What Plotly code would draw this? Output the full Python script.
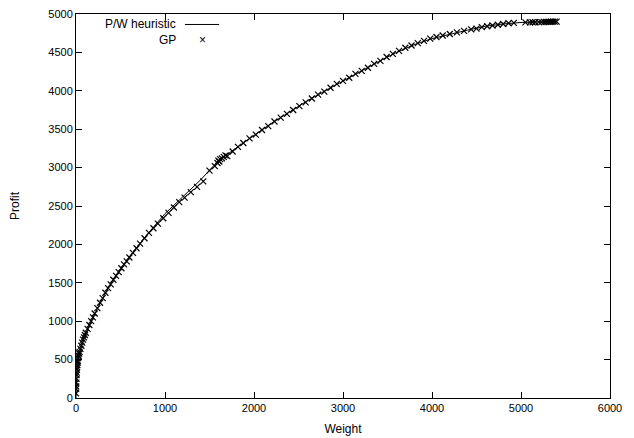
import plotly.graph_objects as go

# P/W heuristic curve
pw_weight = [0, 3, 10, 25, 50, 100, 150, 200, 300, 400, 500, 600, 800, 1000, 1200, 1400, 1600,
             1800, 2000, 2200, 2400, 2600, 2800, 3000, 3200, 3400, 3600, 3800, 4000, 4200,
             4400, 4600, 4800, 5000, 5200, 5400]
pw_profit = [0, 150, 350, 500, 640, 820, 950, 1070, 1300, 1510, 1680, 1840, 2130, 2400, 2620, 2840, 3090,
             3260, 3420, 3580, 3730, 3870, 4000, 4130, 4250, 4380, 4500, 4600, 4680, 4740,
             4790, 4840, 4870, 4890, 4895, 4900]

# GP solutions
gp_weight = [0, 0, 2, 3, 5, 6, 8, 10, 12, 15, 18, 20, 25, 30, 35, 40, 50, 60, 70, 80, 90, 100,
             110, 130, 150, 170, 190, 210, 240, 270, 300, 330, 360, 390, 420, 450, 480, 510,
             540, 570, 600, 640, 680, 720, 770, 820, 870, 920, 980, 1040, 1100, 1160, 1220,
             1290, 1360, 1430, 1500, 1560, 1590, 1600, 1610, 1620, 1640, 1660, 1680, 1700,
             1760, 1820, 1880, 1950, 2020, 2090, 2160, 2230, 2300, 2370, 2440, 2510, 2580,
             2650, 2720, 2790, 2860, 2930, 3000, 3070, 3140, 3210, 3280, 3350, 3420, 3490,
             3560, 3630, 3700, 3770, 3840, 3910, 3980, 4050, 4120, 4200, 4280, 4360, 4440,
             4500, 4560, 4620, 4680, 4740, 4800, 4860, 4920, 5050, 5100, 5130, 5160, 5200,
             5230, 5260, 5280, 5300, 5320, 5340, 5360, 5380, 5400]
gp_profit = [60, 120, 150, 200, 250, 300, 330, 370, 400, 430, 460, 480, 520, 550, 580, 600, 640,
             680, 720, 760, 790, 820, 850, 900, 950, 1000, 1050, 1100, 1170, 1240, 1300, 1370,
             1430, 1480, 1540, 1590, 1640, 1690, 1740, 1780, 1830, 1890, 1950, 2010, 2080,
             2150, 2210, 2270, 2340, 2410, 2480, 2550, 2610, 2680, 2750, 2820, 2960, 3020,
             3060, 3090, 3080, 3110, 3120, 3140, 3160, 3150, 3210, 3270, 3320, 3380, 3430,
             3490, 3540, 3600, 3650, 3700, 3750, 3800, 3850, 3900, 3950, 3990, 4040, 4090,
             4130, 4170, 4220, 4260, 4300, 4350, 4390, 4440, 4480, 4520, 4560, 4590, 4620,
             4650, 4680, 4700, 4720, 4740, 4760, 4780, 4800, 4810, 4830, 4840, 4850, 4860,
             4870, 4880, 4885, 4890, 4890, 4892, 4893, 4895, 4895, 4896, 4897, 4898, 4898,
             4899, 4900, 4900, 4900]

x_ticks = [0, 1000, 2000, 3000, 4000, 5000, 6000]
y_ticks = [0, 500, 1000, 1500, 2000, 2500, 3000, 3500, 4000, 4500, 5000]

FONT = "Liberation Sans, Arial, sans-serif"

fig = go.Figure()
fig.add_trace(go.Scatter(x=pw_weight, y=pw_profit, mode="lines", name="P/W heuristic",
                         line=dict(color="black", width=1), showlegend=False))
fig.add_trace(go.Scatter(x=gp_weight, y=gp_profit, mode="markers", name="GP",
                         marker=dict(symbol="x-thin", size=6, line=dict(color="black", width=1.2)),
                         showlegend=False))

axis_common = dict(showline=True, linecolor="black", linewidth=1, mirror="ticks",
                   ticks="inside", ticklen=6, tickcolor="black", showgrid=False, zeroline=False,
                   ticklabeloverflow="allow",
                   tickfont=dict(family=FONT, size=11, color="black"))

fig.update_xaxes(range=[0, 6000], tickvals=x_ticks, ticktext=[str(v) for v in x_ticks],
                 title=dict(text="Weight", font=dict(family=FONT, size=12, color="black"), standoff=11),
                 **axis_common)
fig.update_yaxes(range=[0, 5000], tickvals=y_ticks, ticktext=[str(v) for v in y_ticks],
                 title=dict(text="Profit", font=dict(family=FONT, size=12, color="black"), standoff=26),
                 **axis_common)

# gnuplot-style key (text left, sample right)
KEY_SPLIT = 0.9544
fig.add_annotation(xref="paper", yref="paper", x=0.189, y=KEY_SPLIT, text="P/W heuristic",
                   showarrow=False, xanchor="right", yanchor="bottom", borderpad=0,
                   font=dict(family=FONT, size=12, color="black"))
fig.add_shape(type="line", xref="paper", yref="paper", x0=0.204, x1=0.268, y0=0.9727, y1=0.9727,
              line=dict(color="black", width=1))
fig.add_annotation(xref="paper", yref="paper", x=0.189, y=KEY_SPLIT, text="GP",
                   showarrow=False, xanchor="right", yanchor="top", borderpad=0,
                   font=dict(family=FONT, size=12, color="black"))
fig.add_annotation(xref="paper", yref="paper", x=0.236, y=KEY_SPLIT, text="×",
                   showarrow=False, xanchor="center", yanchor="top", borderpad=0,
                   font=dict(family=FONT, size=12, color="black"))

fig.update_layout(width=634, height=438, margin=dict(l=76, r=24, t=14, b=40, autoexpand=False),
                  paper_bgcolor="white", plot_bgcolor="white", hovermode=False,
                  font=dict(family=FONT, size=11, color="black"))

fig.write_html("out.html", config={"displayModeBar": False},
               post_script="document.body.style.margin='0';document.body.style.overflow='hidden';")
